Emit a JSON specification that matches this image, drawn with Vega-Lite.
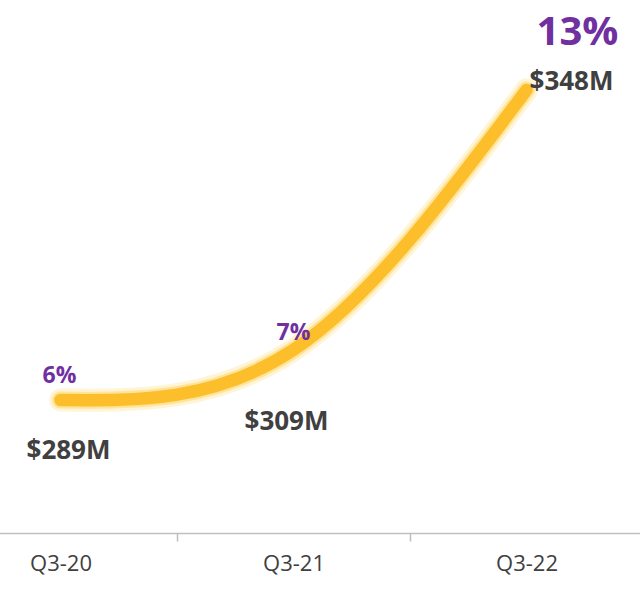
{
  "$schema": "https://vega.github.io/schema/vega-lite/v6.json",
  "width": 640,
  "height": 533,
  "autosize": {"type": "none"},
  "padding": {"left": 0, "right": 0, "top": 0, "bottom": 62},
  "background": "white",
  "config": {"view": {"stroke": null}, "font": "Open Sans"},
  "data": {
    "values": [
      {"quarter": "Q3-20", "revenue": 289, "label": "$289M", "growth": "6%"},
      {"quarter": "Q3-21", "revenue": 309, "label": "$309M", "growth": "7%"},
      {"quarter": "Q3-22", "revenue": 348, "label": "$348M", "growth": "13%"}
    ]
  },
  "encoding": {
    "x": {
      "field": "quarter",
      "type": "ordinal",
      "sort": null,
      "scale": {"type": "band", "range": [-56, 643], "paddingInner": 0, "paddingOuter": 0},
      "axis": {
        "title": null,
        "tickBand": "extent",
        "domainColor": "#bfbfbf",
        "domainWidth": 1.5,
        "tickColor": "#bfbfbf",
        "tickWidth": 1.5,
        "tickSize": 8,
        "labelFont": "Open Sans",
        "labelFontSize": 22,
        "labelColor": "#404040",
        "labelPadding": 12,
        "labelAngle": 0,
        "grid": false
      }
    },
    "y": {
      "field": "revenue",
      "type": "quantitative",
      "scale": {"type": "pow", "exponent": 11, "domain": [289, 348], "range": [400, 90], "zero": false, "nice": false},
      "axis": null
    }
  },
  "layer": [
    {"mark": {"type": "line", "interpolate": "natural", "color": "#FFEDB5", "strokeWidth": 23, "strokeCap": "round", "opacity": 0.55}},
    {"mark": {"type": "line", "interpolate": "natural", "color": "#FFDB75", "strokeWidth": 17, "strokeCap": "round", "opacity": 0.6}},
    {"mark": {"type": "line", "interpolate": "natural", "color": "#FDBE2C", "strokeWidth": 12.5, "strokeCap": "round"}},
    {
      "transform": [{"filter": "datum.quarter == 'Q3-20'"}],
      "layer": [
        {"mark": {"type": "text", "font": "Open Sans", "fontWeight": "bold", "fontSize": 23, "color": "#7030A0", "baseline": "alphabetic", "align": "center", "dx": -1, "dy": -17}, "encoding": {"text": {"field": "growth"}}},
        {"mark": {"type": "text", "font": "Open Sans", "fontWeight": "bold", "fontSize": 26, "color": "#404040", "baseline": "alphabetic", "align": "center", "dx": 8, "dy": 59}, "encoding": {"text": {"field": "label"}}}
      ]
    },
    {
      "transform": [{"filter": "datum.quarter == 'Q3-21'"}],
      "layer": [
        {"mark": {"type": "text", "font": "Open Sans", "fontWeight": "bold", "fontSize": 23, "color": "#7030A0", "baseline": "alphabetic", "align": "center", "dx": 0, "dy": -10}, "encoding": {"text": {"field": "growth"}}},
        {"mark": {"type": "text", "font": "Open Sans", "fontWeight": "bold", "fontSize": 26, "color": "#404040", "baseline": "alphabetic", "align": "center", "dx": -7, "dy": 80}, "encoding": {"text": {"field": "label"}}}
      ]
    },
    {
      "transform": [{"filter": "datum.quarter == 'Q3-22'"}],
      "layer": [
        {"mark": {"type": "text", "font": "Open Sans", "fontWeight": "bold", "fontSize": 40, "color": "#7030A0", "baseline": "alphabetic", "align": "center", "dx": 51, "dy": -45}, "encoding": {"text": {"field": "growth"}}},
        {"mark": {"type": "text", "font": "Open Sans", "fontWeight": "bold", "fontSize": 26, "color": "#404040", "baseline": "alphabetic", "align": "center", "dx": 45, "dy": 0}, "encoding": {"text": {"field": "label"}}}
      ]
    }
  ]
}
